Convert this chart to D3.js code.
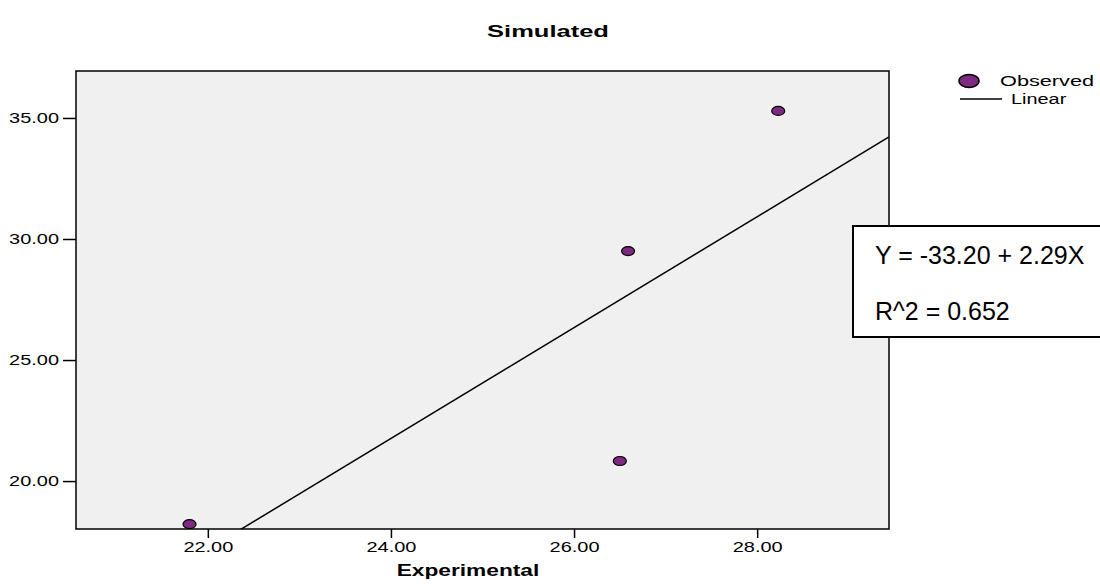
<!DOCTYPE html>
<html lang="en">
<head>
  <meta charset="UTF-8">
  <title>Simulated vs Experimental</title>
  <script src="https://d3js.org/d3.v7.min.js"></script>
  <style>
    body { margin: 0; background: #fff; }
  </style>
</head>
<body>
  <div id="chart"></div>
  <script>
    // observed points
    const experimental = [21.80, 26.50, 26.59, 28.23];
    const simulated = [18.22, 20.83, 29.50, 35.29];
    const xTicks = [22, 24, 26, 28];
    const yTicks = [20, 25, 30, 35];
    // fitted line, as printed in the box
    const intercept = -33.20;
    const slope = 2.29;
    const fitLines = ["Y = -33.20 + 2.29X", "R^2 = 0.652"];

    const width = 1100, height = 584;
    const margin = { top: 71, right: 211, bottom: 55, left: 76 };
    const w = width - margin.left - margin.right;
    const h = height - margin.top - margin.bottom;
    const sans = "Liberation Sans, Arial, sans-serif";

    // the original output is stretched sideways, so widen the glyphs
    function stretch(sel, k) {
      sel.each(function() {
        const len = this.getComputedTextLength();
        d3.select(this).attr("textLength", len * k).attr("lengthAdjust", "spacingAndGlyphs");
      });
    }

    const svg = d3.select("#chart").append("svg")
      .attr("width", width)
      .attr("height", height)
      .attr("font-family", sans);

    const x = d3.scaleLinear().domain([20.56, 29.44]).range([0, w]);
    const y = d3.scaleLinear().domain([18.02, 36.94]).range([h, 0]);

    svg.append("text")
      .attr("x", 548).attr("y", 37)
      .attr("text-anchor", "middle")
      .attr("font-size", 17).attr("font-weight", "bold")
      .text("Simulated")
      .call(stretch, 1.5);

    const g = svg.append("g").attr("transform", `translate(${margin.left},${margin.top})`);

    g.append("rect")
      .attr("width", w).attr("height", h)
      .attr("fill", "#f0f0f0");

    g.append("defs").append("clipPath").attr("id", "plot")
      .append("rect").attr("width", w).attr("height", h);

    // regression line across the x domain, clipped to the frame
    const dom = x.domain();
    g.append("line")
      .attr("clip-path", "url(#plot)")
      .attr("x1", x(dom[0])).attr("y1", y(intercept + slope * dom[0]))
      .attr("x2", x(dom[1])).attr("y2", y(intercept + slope * dom[1]))
      .attr("stroke", "#000").attr("stroke-width", 1.5);

    g.selectAll("ellipse.pt")
      .data(experimental)
      .enter().append("ellipse")
      .attr("class", "pt")
      .attr("cx", d => x(d))
      .attr("cy", (d, i) => y(simulated[i]))
      .attr("rx", 6.5).attr("ry", 4.5)
      .attr("fill", "#7d2a80")
      .attr("stroke", "#000").attr("stroke-width", 1.2);

    g.append("rect")
      .attr("width", w).attr("height", h)
      .attr("fill", "none").attr("stroke", "#000").attr("stroke-width", 1.5);

    const xAxis = g.append("g")
      .attr("transform", `translate(0,${h})`)
      .call(d3.axisBottom(x).tickValues(xTicks).tickFormat(d3.format(".2f")).tickSize(9).tickPadding(3));
    const yAxis = g.append("g")
      .call(d3.axisLeft(y).tickValues(yTicks).tickFormat(d3.format(".2f")).tickSize(13).tickPadding(4));
    [xAxis, yAxis].forEach(a => {
      a.attr("font-family", sans).attr("font-size", 15);
      a.select(".domain").remove();
      a.selectAll(".tick line").attr("stroke", "#000").attr("stroke-width", 1.5);
      a.selectAll(".tick text").attr("fill", "#000").call(stretch, 1.33);
    });

    svg.append("text")
      .attr("x", 468).attr("y", 576)
      .attr("text-anchor", "middle")
      .attr("font-size", 16).attr("font-weight", "bold")
      .text("Experimental")
      .call(stretch, 1.42);

    // legend
    const lg = svg.append("g").attr("font-size", 14);
    lg.append("ellipse")
      .attr("cx", 969).attr("cy", 81).attr("rx", 10).attr("ry", 6.5)
      .attr("fill", "#7d2a80").attr("stroke", "#000").attr("stroke-width", 1.5);
    lg.append("text").attr("x", 1000).attr("y", 86).text("Observed").call(stretch, 1.55);
    lg.append("line")
      .attr("x1", 960).attr("x2", 1002).attr("y1", 99).attr("y2", 99)
      .attr("stroke", "#000").attr("stroke-width", 1.5);
    lg.append("text").attr("x", 1011).attr("y", 104).text("Linear").call(stretch, 1.42);

    // equation box
    svg.append("rect")
      .attr("x", 853).attr("y", 226).attr("width", 260).attr("height", 111)
      .attr("fill", "#fff").attr("stroke", "#000").attr("stroke-width", 2);
    svg.selectAll("text.fit")
      .data(fitLines)
      .enter().append("text")
      .attr("class", "fit")
      .attr("x", 875)
      .attr("y", (d, i) => 264 + i * 56)
      .attr("font-size", 25)
      .text(d => d);
  </script>
</body>
</html>
